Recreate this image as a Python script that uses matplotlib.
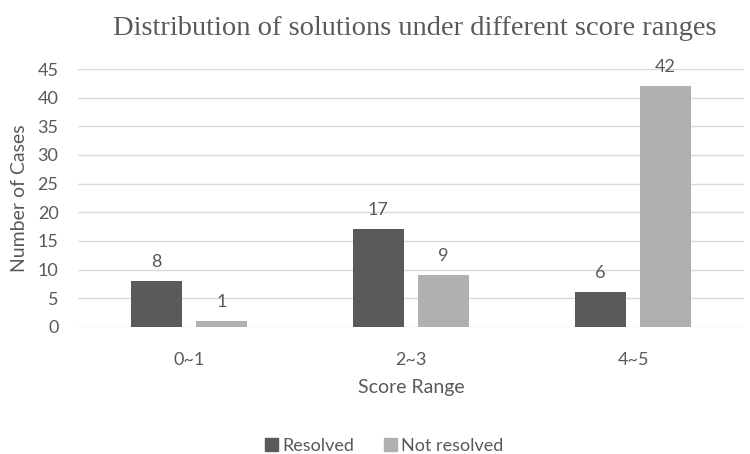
import matplotlib
matplotlib.use("Agg")
import matplotlib.pyplot as plt
import numpy as np
from matplotlib.patches import Patch

categories = ["0~1", "2~3", "4~5"]
resolved = [8, 17, 6]
not_resolved = [1, 9, 42]
series_names = ["Resolved", "Not resolved"]
y_ticks = [0, 5, 10, 15, 20, 25, 30, 35, 40, 45]

text_color = "#595959"
dark = "#5a5a5a"
light = "#b0b0b0"
sans = ["Lato", "DejaVu Sans"]

fig = plt.figure(figsize=(7.5, 4.54), dpi=100)
ax = fig.add_axes([0.104, 0.280, 0.888, 0.568])

x = np.arange(len(categories))
w = 0.23
off = 0.147
b1 = ax.bar(x - off, resolved, w, color=dark, zorder=3)
b2 = ax.bar(x + off, not_resolved, w, color=light, zorder=3)

for bars, vals in ((b1, resolved), (b2, not_resolved)):
    for rect, v in zip(bars, vals):
        ax.text(rect.get_x() + rect.get_width() / 2, v + 2.0, str(v),
                ha="center", va="bottom", fontsize=13, color=text_color,
                family=sans)

ax.set_xlim(-0.5, 2.5)
ax.set_ylim(0, 45)
ax.set_yticks(y_ticks)
ax.set_xticks(x)
ax.set_xticklabels(categories)
ax.yaxis.grid(True, color="#d9d9d9", linewidth=1.0, zorder=0)
ax.set_axisbelow(True)
for s in ax.spines.values():
    s.set_visible(False)
ax.tick_params(length=0, labelsize=13, labelcolor=text_color)
ax.tick_params(axis="y", pad=14)
ax.tick_params(axis="x", pad=18)
for lab in ax.get_xticklabels() + ax.get_yticklabels():
    lab.set_family(sans)

ax.set_ylabel("Number of Cases", fontsize=14, color=text_color, family=sans, labelpad=7)
ax.set_xlabel("Score Range", fontsize=14, color=text_color, family=sans, labelpad=8)

fig.text(0.553, 0.937, "Distribution of solutions under different score ranges",
         ha="center", va="center", fontsize=20.5, color=text_color,
         family=["Liberation Serif", "DejaVu Serif"])

handles = [Patch(color=dark), Patch(color=light)]
fig.legend(handles, series_names, loc="center", bbox_to_anchor=(0.512, 0.018),
           ncol=2, frameon=False, handlelength=0.75, handleheight=0.75,
           columnspacing=1.65, handletextpad=0.2,
           prop={"family": sans, "size": 13}, labelcolor=text_color)

fig.savefig("out.png", dpi=100)
